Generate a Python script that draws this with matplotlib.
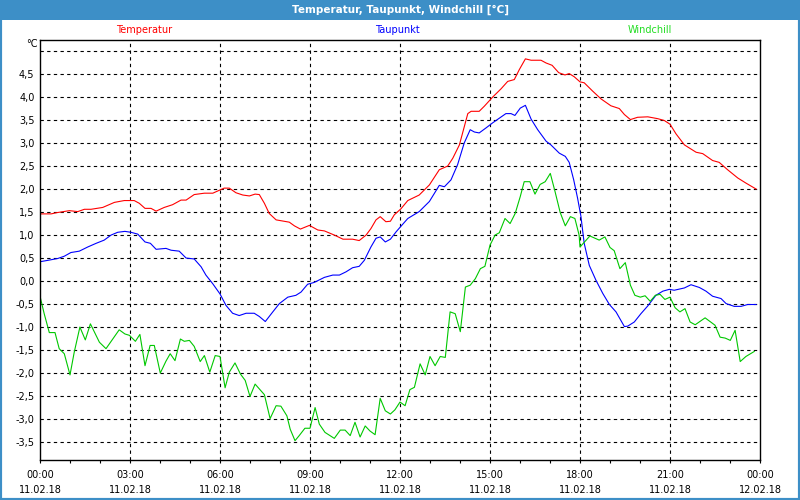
import matplotlib.pyplot as plt
from matplotlib.patches import Rectangle

# Stunden seit 00:00 am 11.02.18 und Werte in °C
temp_h = [0.0, 0.37, 0.59, 0.98, 1.26, 1.48, 1.7, 2.09, 2.48, 2.81, 3.14, 3.31, 3.5, 3.7, 3.87,
          4.14, 4.42, 4.7, 4.87, 5.14, 5.48, 5.76, 6.0, 6.14, 6.31, 6.53, 6.76, 6.98, 7.17,
          7.31, 7.48, 7.64, 7.87, 8.31, 8.48, 8.68, 8.98, 9.26, 9.48, 9.81, 10.1, 10.26, 10.42,
          10.64, 10.87, 11.03, 11.2, 11.34, 11.53, 11.68, 11.81, 12.03, 12.26, 12.64, 12.98,
          13.31, 13.59, 13.76, 13.98, 14.26, 14.37, 14.64, 14.81, 15.09, 15.37, 15.59, 15.81,
          15.98, 16.18, 16.37, 16.7, 16.87, 17.07, 17.29, 17.5, 17.64, 17.81, 18.0, 18.14,
          18.42, 18.7, 19.03, 19.31, 19.48, 19.68, 19.92, 20.26, 20.59, 20.81, 21.0, 21.2,
          21.48, 21.87, 22.09, 22.42, 22.64, 22.92, 23.26, 23.53, 23.87]
temp_v = [1.45, 1.45, 1.48, 1.52, 1.50, 1.55, 1.55, 1.59, 1.70, 1.74, 1.74, 1.68, 1.57, 1.57, 1.51,
          1.59, 1.65, 1.75, 1.75, 1.87, 1.90, 1.90, 1.97, 2.01, 2.01, 1.91, 1.86, 1.84, 1.88,
          1.87, 1.68, 1.46, 1.32, 1.27, 1.19, 1.12, 1.20, 1.10, 1.08, 0.99, 0.90, 0.90, 0.90,
          0.87, 0.99, 1.13, 1.32, 1.39, 1.28, 1.29, 1.43, 1.56, 1.74, 1.86, 2.08,
          2.41, 2.49, 2.66, 2.95, 3.63, 3.68, 3.68, 3.79, 3.99, 4.17, 4.33, 4.37,
          4.59, 4.82, 4.79, 4.79, 4.73, 4.68, 4.52, 4.47, 4.50, 4.43, 4.32, 4.30,
          4.12, 3.95, 3.80, 3.74, 3.61, 3.50, 3.55, 3.56, 3.52, 3.48, 3.40, 3.19,
          2.95, 2.79, 2.76, 2.61, 2.57, 2.41, 2.23, 2.12, 1.99]

taup_h = [0.0, 0.26, 0.59, 0.81, 1.03, 1.31, 1.59, 1.87, 2.14, 2.37, 2.59, 2.83, 3.03, 3.26,
          3.5, 3.68, 3.87, 4.2, 4.37, 4.64, 4.87, 5.14, 5.37, 5.53, 5.76, 6.0, 6.2, 6.42,
          6.64, 6.87, 7.14, 7.31, 7.51, 7.76, 7.98, 8.26, 8.53, 8.7, 8.92, 9.14, 9.48, 9.76,
          9.98, 10.2, 10.42, 10.64, 10.81, 11.03, 11.2, 11.34, 11.51, 11.68, 11.87, 12.03,
          12.26, 12.64, 12.98, 13.31, 13.48, 13.7, 13.92, 14.14, 14.34, 14.48, 14.64, 14.87,
          15.09, 15.31, 15.53, 15.7, 15.83, 16.01, 16.18, 16.37, 16.59, 16.87, 17.03, 17.31,
          17.51, 17.64, 17.79, 17.92, 18.03, 18.14, 18.31, 18.53, 18.76, 18.98, 19.2, 19.48,
          19.59, 19.81, 20.03, 20.26, 20.53, 20.76, 20.98, 21.14, 21.48, 21.7, 21.98, 22.2,
          22.42, 22.7, 22.87, 23.14, 23.37, 23.59, 23.87]
taup_v = [0.41, 0.44, 0.48, 0.53, 0.61, 0.64, 0.73, 0.81, 0.88, 0.99, 1.05, 1.07, 1.05, 1.01,
          0.84, 0.81, 0.68, 0.70, 0.66, 0.64, 0.49, 0.47, 0.30, 0.12, -0.07, -0.29, -0.54, -0.71,
          -0.76, -0.71, -0.71, -0.78, -0.89, -0.68, -0.50, -0.36, -0.32, -0.25, -0.08, -0.04,
          0.07, 0.12, 0.12, 0.19, 0.28, 0.31, 0.44, 0.73, 0.92, 0.95, 0.84, 0.90, 1.06, 1.18,
          1.35, 1.50, 1.72, 2.07, 2.04, 2.19, 2.52, 2.99, 3.28, 3.23, 3.21, 3.32,
          3.43, 3.53, 3.63, 3.63, 3.59, 3.75, 3.81, 3.51, 3.28, 3.03, 2.95, 2.77,
          2.70, 2.57, 2.19, 1.79, 1.40, 0.81, 0.33, 0.01, -0.28, -0.52, -0.68, -1.00,
          -0.99, -0.90, -0.72, -0.55, -0.32, -0.23, -0.19, -0.21, -0.16, -0.09, -0.15, -0.23,
          -0.34, -0.39, -0.50, -0.56, -0.56, -0.52, -0.52]

wind_h = [0.0, 0.14, 0.31, 0.5, 0.64, 0.81, 1.0, 1.14, 1.33, 1.51, 1.68, 1.98, 2.2, 2.64, 2.83,
          2.98, 3.18, 3.33, 3.5, 3.67, 3.81, 4.01, 4.2, 4.34, 4.5, 4.68, 4.81, 4.98, 5.14,
          5.34, 5.48, 5.66, 5.84, 6.0, 6.17, 6.31, 6.5, 6.68, 6.84, 7.0, 7.17, 7.48, 7.67,
          7.87, 8.03, 8.23, 8.34, 8.5, 8.64, 8.83, 9.0, 9.17, 9.31, 9.5, 9.81, 10.01, 10.17,
          10.34, 10.5, 10.67, 10.84, 11.0, 11.17, 11.34, 11.51, 11.68, 11.83, 12.0, 12.17,
          12.33, 12.48, 12.67, 12.84, 13.0, 13.17, 13.34, 13.51, 13.67, 13.84, 14.01, 14.18,
          14.34, 14.51, 14.68, 14.83, 15.0, 15.17, 15.31, 15.5, 15.67, 15.84, 16.01, 16.14,
          16.33, 16.5, 16.67, 16.84, 17.01, 17.17, 17.34, 17.51, 17.68, 17.83, 17.97, 18.0,
          18.33, 18.64, 18.83, 19.0, 19.14, 19.33, 19.51, 19.68, 19.83, 20.01, 20.17, 20.34,
          20.51, 20.67, 20.83, 21.0, 21.17, 21.33, 21.5, 21.67, 21.84, 22.17, 22.5, 22.67,
          22.84, 23.01, 23.17, 23.34, 23.53, 23.81]
wind_v = [-0.34, -0.72, -1.13, -1.13, -1.48, -1.59, -2.05, -1.56, -1.01, -1.29, -0.94, -1.34,
          -1.48, -1.07, -1.16, -1.19, -1.32, -1.17, -1.85, -1.41, -1.41, -2.01, -1.75, -1.59,
          -1.74, -1.27, -1.32, -1.30, -1.43, -1.76, -1.63, -1.99, -1.63, -1.65, -2.33, -1.99,
          -1.79, -2.03, -2.17, -2.52, -2.25, -2.48, -3.00, -2.72, -2.73, -2.94, -3.23, -3.48,
          -3.37, -3.21, -3.21, -2.76, -3.12, -3.30, -3.43, -3.25, -3.25, -3.37, -3.08, -3.40,
          -3.16, -3.27, -3.35, -2.56, -2.83, -2.90, -2.81, -2.64, -2.72, -2.37, -2.32, -1.81,
          -2.05, -1.65, -1.85, -1.65, -1.67, -0.68, -0.72, -1.11, -0.14, -0.10, 0.04, 0.26,
          0.31, 0.77, 0.99, 1.04, 1.35, 1.24, 1.46, 1.83, 2.15, 2.15, 1.88, 2.09, 2.15, 2.33,
          1.93, 1.48, 1.19, 1.39, 1.35, 0.99, 0.73, 0.97, 0.88, 0.95, 0.72, 0.65, 0.26, 0.39,
          -0.10, -0.32, -0.36, -0.33, -0.45, -0.32, -0.30, -0.41, -0.36, -0.59, -0.68, -0.61,
          -0.90, -0.96, -0.81, -0.97, -1.23, -1.25, -1.30, -1.08, -1.76, -1.65, -1.54]

x_ticks = [0, 3, 6, 9, 12, 15, 18, 21, 24]
x_labels = ['00:00\n11.02.18', '03:00\n11.02.18', '06:00\n11.02.18', '09:00\n11.02.18',
            '12:00\n11.02.18', '15:00\n11.02.18', '18:00\n11.02.18', '21:00\n11.02.18',
            '00:00\n12.02.18']
y_ticks = [-3.5, -3.0, -2.5, -2.0, -1.5, -1.0, -0.5, 0.0, 0.5, 1.0, 1.5, 2.0, 2.5, 3.0, 3.5, 4.0, 4.5, 5.0]

blau = '#3d8fc7'

fig = plt.figure(figsize=(8, 5), dpi=100)
fig.patch.set_facecolor('white')

# Titelleiste und Rahmen
fig.add_artist(Rectangle((0, 1 - 20 / 500), 1, 20 / 500, transform=fig.transFigure,
                         facecolor=blau, edgecolor='none'))
fig.add_artist(Rectangle((0, 0), 1, 1, transform=fig.transFigure, fill=False,
                         edgecolor=blau, lw=3))
fig.text(0.5, 1 - 10 / 500, 'Temperatur, Taupunkt, Windchill [°C]', color='white',
         fontsize=7.5, fontweight='bold', ha='center', va='center')

# Legende oben
fig.text(144 / 800, 1 - 30 / 500, 'Temperatur', color='#ff0000', fontsize=7, ha='center', va='center')
fig.text(397 / 800, 1 - 30 / 500, 'Taupunkt', color='#0000ff', fontsize=7, ha='center', va='center')
fig.text(650 / 800, 1 - 30 / 500, 'Windchill', color='#22dd22', fontsize=7, ha='center', va='center')

ax = fig.add_axes([40 / 800, 40 / 500, 720 / 800, 420 / 500])
ax.plot(temp_h, temp_v, color='#ff0000', lw=0.8)
ax.plot(taup_h, taup_v, color='#0000ff', lw=0.8)
ax.plot(wind_h, wind_v, color='#00c800', lw=0.8)

ax.set_xlim(0, 24)
ax.set_ylim(-3.9, 5.23)

ax.set_xticks(x_ticks)
ax.set_xticklabels(x_labels, fontsize=7, linespacing=1.65)
ax.set_xticks(range(0, 25), minor=True)
ax.tick_params(axis='x', which='both', direction='out', length=2, width=0.8, pad=5)

ax.set_yticks(y_ticks)
ax.set_yticklabels([('%.1f' % v).replace('.', ',') for v in y_ticks[:-1]] + [''], fontsize=7)
ax.tick_params(axis='y', length=0, pad=4)
ax.text(-0.003, 1 - 4 / 420, '°C', transform=ax.transAxes, fontsize=7, ha='right', va='center')

for v in y_ticks:
    ax.axhline(v, color='black', lw=0.8, ls=(0, (3, 3)), zorder=0)
for h in x_ticks[1:-1]:
    ax.axvline(h, color='black', lw=0.8, ls=(0, (3, 3)), zorder=0)

for s in ax.spines.values():
    s.set_linewidth(1.0)

plt.savefig('out.png', dpi=100)
